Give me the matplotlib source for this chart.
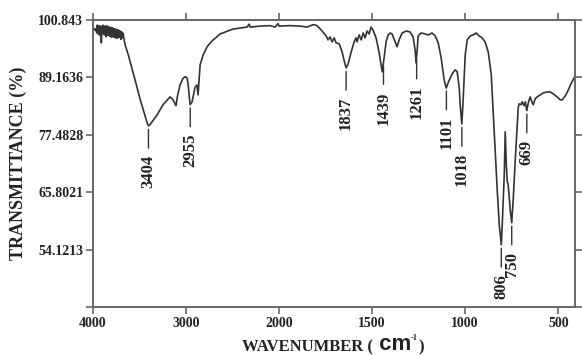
import numpy as np
import matplotlib.pyplot as plt

# IR spectrum (wavenumber in cm-1, transmittance in %)
wavenumber = [4000, 3985, 3975,
              3965, 3960, 3955, 3950, 3945, 3940, 3935, 3930, 3925, 3920,
              3915, 3910, 3905, 3900, 3895, 3890, 3885, 3880, 3875, 3870,
              3865, 3860, 3855, 3850, 3845, 3840, 3835, 3830, 3825, 3820,
              3815, 3810, 3805, 3800, 3795, 3790, 3785, 3780, 3775, 3770,
              3765, 3760, 3755, 3750, 3745, 3740, 3735, 3730, 3725, 3720,
              3715, 3710, 3705, 3700, 3695, 3690, 3685, 3680, 3675, 3670,
              3655, 3620, 3580, 3540, 3495, 3460, 3430,
              3415, 3404, 3390, 3366, 3312, 3247, 3172, 3140, 3108, 3090,
              3065, 3035, 3011, 2990, 2979, 2957, 2935, 2903, 2882, 2871,
              2849, 2817, 2774, 2720, 2634, 2495, 2344, 2323, 2312, 2204,
              2097, 2043, 2011, 2000, 1941, 1887, 1850, 1817, 1796, 1769,
              1747, 1737, 1726, 1715, 1704, 1694, 1677, 1661, 1650, 1640,
              1629, 1613, 1597, 1586, 1581, 1570, 1559, 1548, 1538, 1527,
              1516, 1506, 1495, 1479, 1463, 1446, 1436, 1425, 1414, 1403,
              1393, 1376, 1366, 1355, 1339, 1317, 1296, 1280, 1269, 1264,
              1258, 1253, 1237, 1215, 1199, 1178, 1161, 1145, 1129, 1113,
              1102, 1086, 1070, 1054, 1043, 1032, 1027, 1018, 1011, 1000,
              989, 973, 957, 941, 925, 909, 893, 876, 860, 849,
              839, 828, 817, 806, 801, 790, 785, 779, 774, 769,
              758, 750, 742, 731, 720, 715, 710, 699, 694, 683,
              677, 669, 661, 651, 640, 634, 624, 613, 597, 581,
              559, 543, 527, 506, 489, 479, 462, 446, 430, 414, 410]
transmittance = [99.3, 99.0, 98.7,
                 99.1, 98.2, 99.8, 98.6, 99.5, 97.9, 99.7, 98.4, 99.2, 97.6,
                 99.6, 96.2, 99.0, 98.1, 99.8, 98.3, 99.4, 97.8, 99.6, 98.5,
                 99.1, 97.4, 99.7, 98.2, 99.3, 97.7, 99.5, 98.0, 99.2, 97.5,
                 99.4, 98.3, 99.0, 97.3, 99.3, 97.9, 98.9, 97.4, 99.1, 97.8,
                 98.8, 97.2, 99.0, 97.9, 98.7, 97.1, 98.9, 97.6, 98.6, 97.3,
                 98.7, 97.8, 98.5, 96.9, 98.4, 97.5, 98.3, 97.2, 98.1, 97.3,
                 95.8, 93.7, 90.9, 88.1, 84.8, 82.6, 80.7,
                 79.7, 79.3, 79.5, 80.1, 81.5, 83.6, 85.2, 84.6, 83.4, 85.6,
                 87.6, 88.9, 89.3, 89.1, 88.0, 83.6, 84.2, 87.2, 87.6, 85.6,
                 91.7, 93.7, 95.4, 96.6, 98.0, 99.0, 99.4, 100.0, 99.4, 99.6,
                 99.7, 99.4, 100.1, 99.6, 99.7, 99.6, 99.4, 99.9, 99.7, 98.6,
                 97.6, 96.8, 97.4, 96.4, 97.2, 96.2, 96.0, 94.3, 92.5, 91.1,
                 91.9, 94.3, 96.4, 97.2, 96.4, 97.8, 96.8, 98.2, 97.2, 98.6,
                 98.0, 99.4, 98.8, 97.2, 94.3, 90.3, 93.1, 96.4, 97.8, 98.2,
                 98.0, 96.4, 95.4, 96.8, 98.2, 98.6, 98.4, 97.4, 94.7, 92.1,
                 94.7, 97.6, 98.2, 98.0, 97.8, 98.2, 97.6, 96.2, 93.1, 88.6,
                 87.0, 88.6, 89.9, 90.7, 90.3, 87.0, 83.6, 79.7, 84.6, 93.7,
                 96.8, 97.6, 97.8, 98.2, 97.6, 97.2, 96.4, 94.3, 89.7, 81.5,
                 74.4, 66.3, 59.2, 55.1, 59.2, 69.4, 78.1, 71.3, 67.9, 67.3,
                 62.2, 59.6, 64.3, 72.4, 79.5, 83.0, 83.8, 83.6, 84.2, 83.4,
                 84.2, 82.4, 84.0, 85.2, 84.0, 83.6, 84.8, 85.2, 85.6, 86.0,
                 86.2, 86.2, 85.8, 85.2, 84.6, 84.6, 85.4, 86.6, 88.0, 89.1, 89.3]

peak_labels = ['3404', '2955', '1837', '1439', '1261', '1101', '1018', '806', '750', '669']
peak_pos = [3404, 2955, 1640, 1439, 1261, 1101, 1018, 806, 750, 669]

x_ticks = [4000, 3000, 2000, 1500, 1000, 500]
y_ticks = [100.843, 89.1636, 77.4828, 65.8021, 54.1213, 42.4405]
y_ticklabels = ['100.843', '89.1636', '77.4828', '65.8021', '54.1213', '']


# wavenumber axis is compressed 2:1 above 2000 cm-1
def fwd(w):
    w = np.asarray(w, dtype=float)
    return np.where(w >= 2000, (w - 2000) / 2.0, w - 2000)


def inv(u):
    u = np.asarray(u, dtype=float)
    return np.where(u >= 0, 2000 + 2.0 * u, u + 2000)


serif = 'Liberation Serif'
ink = '#222222'
spine_col = '#666666'

fig = plt.figure(figsize=(5.82, 3.55), dpi=100)
ax = fig.add_axes([93 / 582, 1 - 307 / 355, (575 - 93) / 582, (307 - 20) / 355])

ax.plot(wavenumber, transmittance, color='#333333', lw=1.2)

ax.set_xscale('function', functions=(fwd, inv))
ax.set_xlim(4000, 410)
ax.set_ylim(42.4405, 100.843)
ax.set_xticks(x_ticks)
ax.set_xticklabels([str(t) for t in x_ticks])
ax.set_yticks(y_ticks)
ax.set_yticklabels(y_ticklabels)
ax.xaxis.set_minor_locator(plt.NullLocator())

ax.tick_params(direction='out', top=True, right=True, labeltop=False,
               labelright=False, color=spine_col, width=1.2, labelcolor=ink)
ax.tick_params(axis='x', length=5, pad=2.5)
ax.tick_params(axis='y', length=5, pad=2)
for lab in ax.get_xticklabels() + ax.get_yticklabels():
    lab.set_fontfamily(serif)
    lab.set_fontweight('bold')
    lab.set_fontsize(10)
for sp in ax.spines.values():
    sp.set_color(spine_col)
    sp.set_linewidth(1.4)

# peak labels with a short lead line under each band
xs = np.array(wavenumber[::-1], dtype=float)
ys = np.array(transmittance[::-1], dtype=float)
for lab, pos in zip(peak_labels, peak_pos):
    dip = np.interp(pos, xs, ys)
    ax.annotate(lab, xy=(pos, dip), xytext=(0, -21), textcoords='offset points',
                rotation=90, ha='center', va='top', fontsize=12,
                fontfamily=serif, fontweight='bold', color=ink,
                arrowprops=dict(arrowstyle='-', color='#333333', lw=1.0,
                                relpos=(0.5, 1.0), shrinkA=3, shrinkB=2.5))

fig.text(18 / 582, 1 - 163 / 355, 'TRANSMITTANCE (%)', rotation=90,
         ha='center', va='center', fontsize=13, fontfamily=serif,
         fontweight='bold', color=ink)

t1 = fig.text(242 / 582, 4 / 355, 'WAVENUMBER (', ha='left', va='baseline',
              fontsize=12, fontfamily=serif, fontweight='bold', color=ink)
t2 = ax.annotate(' cm', xy=(1, 0), xycoords=t1, va='bottom', ha='left',
                 fontsize=16, fontfamily='Liberation Sans', fontweight='bold',
                 color=ink, annotation_clip=False)
t3 = ax.annotate('-1', xy=(1, 0.62), xycoords=t2, va='bottom', ha='left',
                 fontsize=6, fontfamily=serif, fontweight='bold', color=ink,
                 annotation_clip=False)
ax.annotate(')', xy=(1, 0), xycoords=(t3, t1), va='bottom', ha='left',
            fontsize=12, fontfamily=serif, fontweight='bold', color=ink,
            annotation_clip=False)

fig.savefig('out.png', dpi=100)
